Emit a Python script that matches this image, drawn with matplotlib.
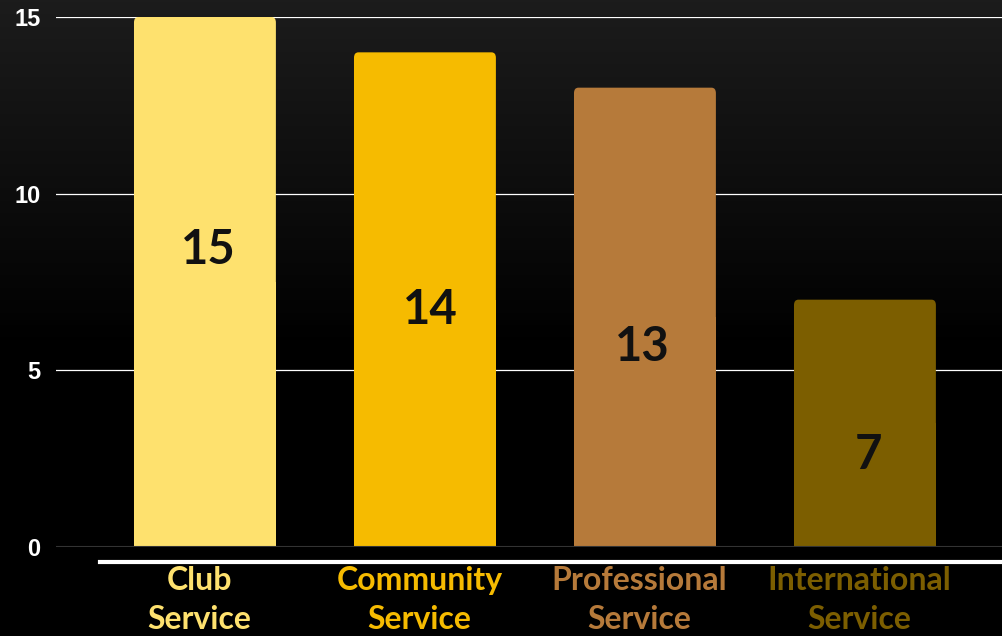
import numpy as np
import matplotlib.pyplot as plt
from matplotlib.patches import FancyBboxPatch

categories = ["Club\nService", "Community\nService", "Professional\nService", "International\nService"]
valores = [15, 14, 13, 7]
colores = ["#fee16e", "#f6bb00", "#b67a3a", "#7c5e00"]
# altura donde va el numero dentro de cada barra
pos_etiqueta = [8.4, 6.7, 5.65, 2.6]
desplaz = [0.015, 0.023, -0.014, 0.018]

fig = plt.figure(figsize=(10.02, 6.36), dpi=100)

# fondo degradado gris oscuro -> negro
bg = fig.add_axes([0, 0, 1, 1], zorder=-10)
grad = np.linspace(0, 1, 256).reshape(-1, 1)
grad = np.clip(grad / 0.55, 0, 1)
col = np.zeros((256, 1, 3))
col[:, 0, :] = (0.11 * (1 - grad))
bg.imshow(col, aspect='auto', extent=[0, 1, 0, 1])
bg.axis('off')

ax = fig.add_axes([56/1002, 1 - 547/636, 1 - 56/1002, 530/636])
ax.patch.set_alpha(0)

x = np.arange(len(valores))
ancho = 0.645
for i, v in enumerate(valores):
    p = FancyBboxPatch((x[i] - ancho/2, 0), ancho, v,
                       boxstyle="round,pad=0,rounding_size=0.02",
                       mutation_aspect=7.8,
                       facecolor=colores[i], edgecolor='none', zorder=3)
    ax.add_patch(p)
    # tapa la esquina redondeada inferior
    ax.bar(x[i], v * 0.5, width=ancho, color=colores[i], zorder=3)
    ax.text(x[i] + desplaz[i], pos_etiqueta[i], str(v), ha='center', va='center',
            fontsize=34, fontweight='bold', color='#111111', family='Lato', zorder=4)

ax.set_xlim(-0.677, 3.623)
ax.set_ylim(0, 15)
ax.set_yticks([0, 5, 10, 15])
ax.yaxis.grid(True, color='white', linewidth=0.9, zorder=1)
ax.set_axisbelow(True)
for s in ax.spines.values():
    s.set_visible(False)
ax.axhline(0, color='#333333', linewidth=1.5, zorder=5)
ax.tick_params(axis='y', length=0, pad=11, labelcolor='white', labelsize=17)
for t in ax.get_yticklabels():
    t.set_fontweight('bold')
    t.set_family('Liberation Sans')
ax.set_xticks(x - 0.025)
ax.set_xticklabels(categories, fontsize=23, fontweight='bold', family='Lato', linespacing=1.4)
ax.tick_params(axis='x', length=0, pad=14)
for t, c in zip(ax.get_xticklabels(), colores):
    t.set_color(c)

# linea blanca bajo el eje
fig.add_artist(plt.Line2D([100/1002, 1], [1 - 562/636, 1 - 562/636], color='white', linewidth=3))

plt.savefig('out.png', dpi=100)
